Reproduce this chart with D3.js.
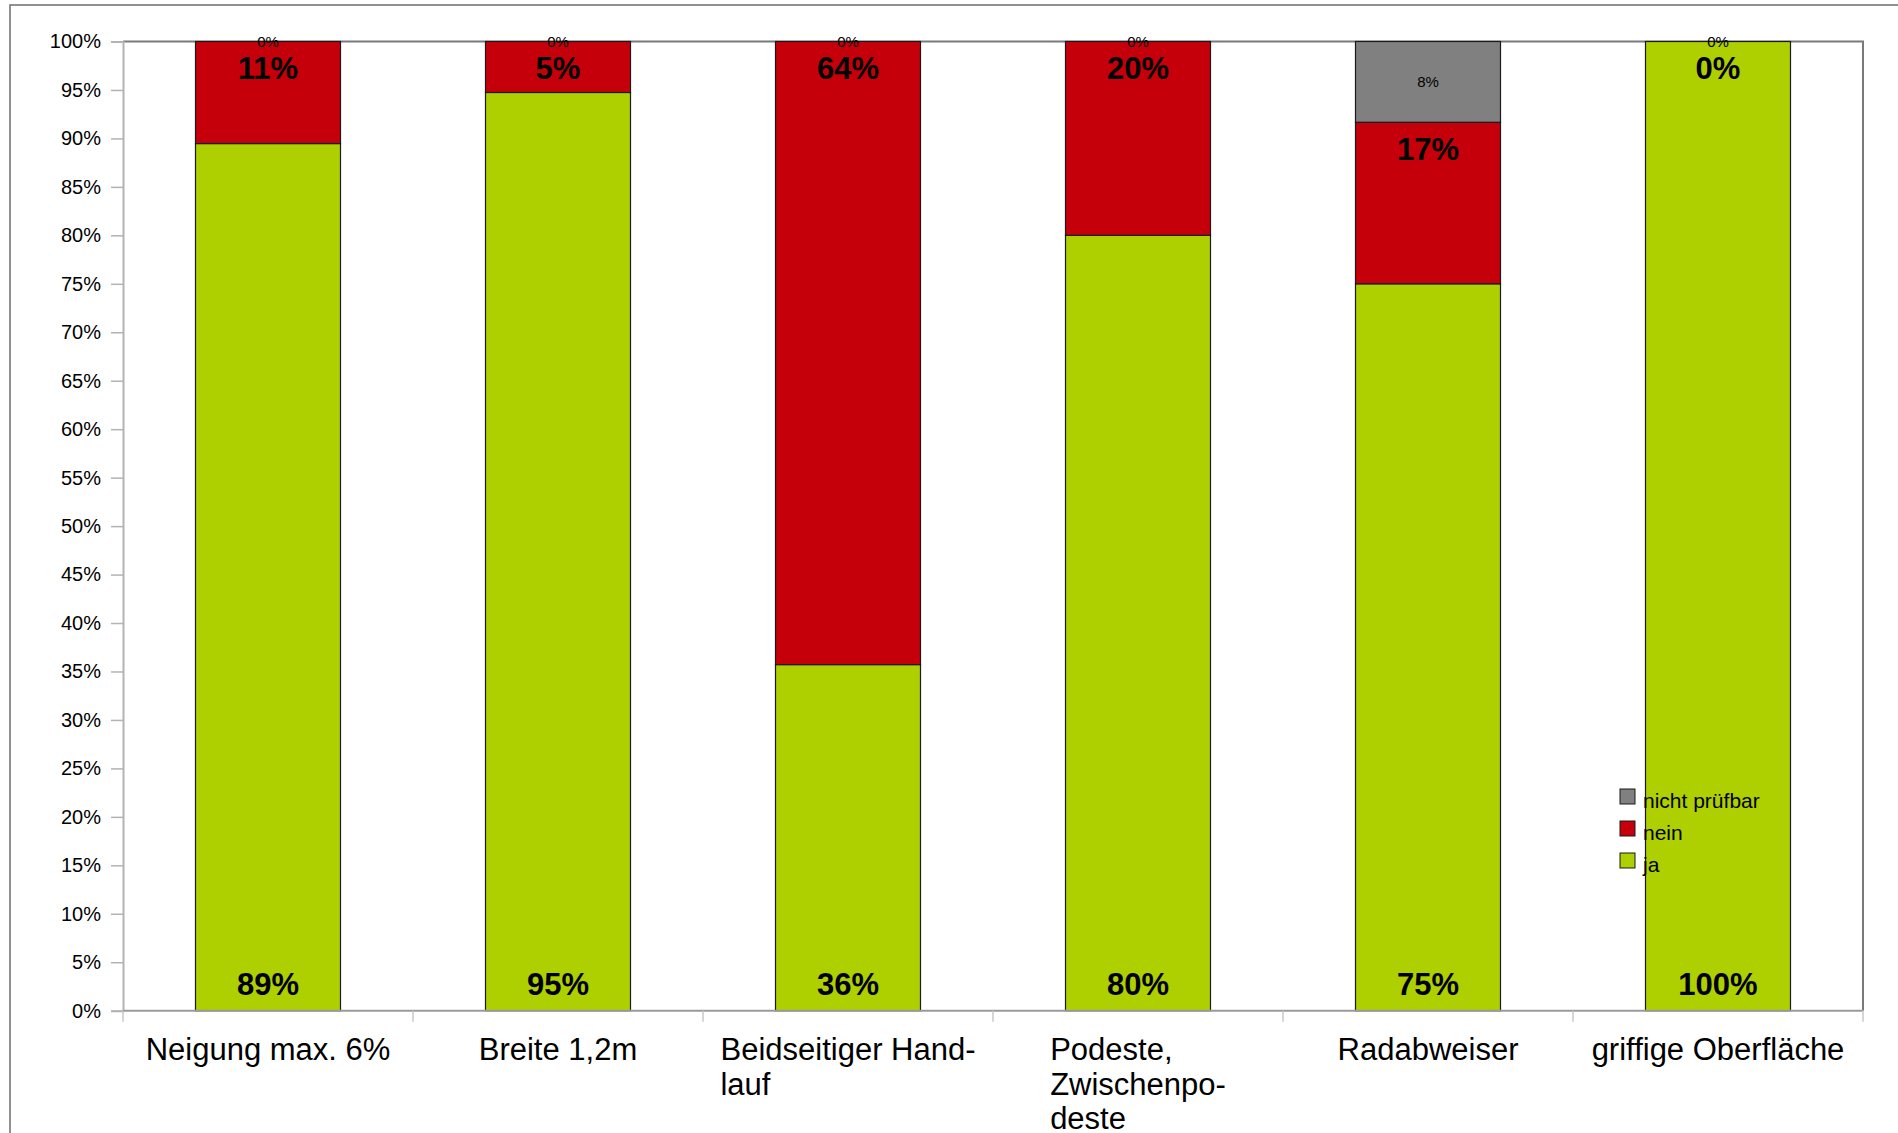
<!DOCTYPE html>
<html>
<head>
<meta charset="utf-8">
<script src="https://cdn.jsdelivr.net/npm/d3@7"></script>
<style>
  body { margin: 0; background: #fff; }
  svg { display: block; font-family: "Liberation Sans", Arial, sans-serif; }
</style>
</head>
<body>
<div id="chart"></div>
<script>
// Data
// ================================
var categories = ["Neigung max. 6%", "Breite 1,2m", "Beidseitiger Handlauf",
  "Podeste, Zwischenpodeste", "Radabweiser", "griffige Oberfläche"];
var categoryLines = [["Neigung max. 6%"], ["Breite 1,2m"], ["Beidseitiger Hand-", "lauf"],
  ["Podeste,", "Zwischenpo-", "deste"], ["Radabweiser"], ["griffige Oberfläche"]];
var ja = [89.47, 94.74, 35.71, 80, 75, 100];
var nein = [10.53, 5.26, 64.29, 20, 16.67, 0];
var nichtPruefbar = [0, 0, 0, 0, 8.33, 0];
var yTicks = [0, 5, 10, 15, 20, 25, 30, 35, 40, 45, 50, 55, 60, 65, 70, 75, 80, 85, 90, 95, 100];

var seriesKeys = ["ja", "nein", "nichtPruefbar"];
var seriesNames = { ja: "ja", nein: "nein", nichtPruefbar: "nicht prüfbar" };
var colors = { ja: "#aecf00", nein: "#c5000b", nichtPruefbar: "#808080" };

// Set up chart
// ================================
var svgWidth = 1898;
var svgHeight = 1133;
var plot = { left: 123, top: 41.5, right: 1863, bottom: 1010.7 };

var svg = d3.select("#chart")
  .append("svg")
  .attr("width", svgWidth)
  .attr("height", svgHeight);

svg.append("rect").attr("width", svgWidth).attr("height", svgHeight).attr("fill", "#fff");

// outer frame
svg.append("rect")
  .attr("x", 10).attr("y", 5)
  .attr("width", svgWidth).attr("height", svgHeight)
  .attr("fill", "none")
  .attr("stroke", "#6e6e6e")
  .attr("stroke-width", 1.5);

var rows = categories.map(function (c, i) {
  return { cat: c, ja: ja[i], nein: nein[i], nichtPruefbar: nichtPruefbar[i] };
});

var x = d3.scaleBand()
  .domain(categories)
  .range([plot.left, plot.right])
  .paddingInner(0.5)
  .paddingOuter(0.25);

var y = d3.scaleLinear()
  .domain([0, 100])
  .range([plot.bottom, plot.top]);

// plot area border (top + right)
svg.append("path")
  .attr("d", `M${plot.left},${plot.top}H${plot.right}V${plot.bottom}`)
  .attr("fill", "none")
  .attr("stroke", "#7a7a7a")
  .attr("stroke-width", 2);

// y axis
var leftAxis = d3.axisLeft(y)
  .tickValues(yTicks)
  .tickSize(12)
  .tickPadding(10)
  .tickFormat(d => d + "%");

var yAxis = svg.append("g")
  .attr("transform", `translate(${plot.left},0)`)
  .call(leftAxis);
yAxis.select(".domain").attr("stroke", "#b3b3b3").attr("stroke-width", 2);
yAxis.selectAll(".tick line").attr("stroke", "#b3b3b3").attr("stroke-width", 1.5);
yAxis.selectAll(".tick text")
  .style("font-size", "20px")
  .style("font-family", "Liberation Sans, Arial, sans-serif")
  .attr("fill", "#000");

// stacked bars
var stacked = d3.stack().keys(seriesKeys)(rows);

var layers = svg.selectAll("g.layer")
  .data(stacked)
  .enter()
  .append("g")
  .attr("class", "layer")
  .attr("fill", d => colors[d.key]);

layers.selectAll("rect")
  .data(d => d)
  .enter()
  .append("rect")
  .attr("x", d => x(d.data.cat))
  .attr("y", d => y(d[1]))
  .attr("width", x.bandwidth())
  .attr("height", d => y(d[0]) - y(d[1]))
  .attr("stroke", "#1a1a1a")
  .attr("stroke-width", 1.2);

// x axis line and ticks at category boundaries
var gap = (x.step() - x.bandwidth()) / 2;
var bounds = categories.map(c => x(c) - gap).concat([plot.right]);

svg.append("line")
  .attr("x1", plot.left).attr("x2", plot.right)
  .attr("y1", plot.bottom).attr("y2", plot.bottom)
  .attr("stroke", "#9a9a9a")
  .attr("stroke-width", 2);

svg.selectAll("line.xtick")
  .data(bounds)
  .enter()
  .append("line")
  .attr("class", "xtick")
  .attr("x1", d => d).attr("x2", d => d)
  .attr("y1", plot.bottom).attr("y2", plot.bottom + 11)
  .attr("stroke", "#c8c8c8")
  .attr("stroke-width", 1.5);

// x labels (block centred, lines left aligned)
var fmt = d3.format(".0f");
var xLabels = svg.selectAll("text.xlabel")
  .data(categories)
  .enter()
  .append("text")
  .attr("class", "xlabel")
  .style("font-size", "31px")
  .attr("fill", "#000");

xLabels.each(function (c, i) {
  var t = d3.select(this);
  categoryLines[i].forEach(function (line, j) {
    t.append("tspan").attr("y", 1060 + j * 34.5).text(line);
  });
  var maxW = 0;
  t.selectAll("tspan").each(function () {
    maxW = Math.max(maxW, this.getComputedTextLength());
  });
  var cx = x(c) + x.bandwidth() / 2;
  t.selectAll("tspan").attr("x", cx - maxW / 2);
});

// data labels
layers.selectAll("text")
  .data(d => d.map(v => Object.assign({ key: d.key }, { v: v })))
  .enter()
  .append("text")
  .attr("text-anchor", "middle")
  .attr("fill", "#000")
  .attr("x", d => x(d.v.data.cat) + x.bandwidth() / 2)
  .attr("y", function (d) {
    if (d.key === "ja") return y(d.v[0]) - 15.5;
    if (d.key === "nein") return y(d.v[1]) + 37.5;
    return (y(d.v[0]) + y(d.v[1])) / 2;
  })
  .attr("dy", d => d.key === "nichtPruefbar" ? "0.35em" : 0)
  .style("font-size", d => d.key === "nichtPruefbar" ? "15px" : "31px")
  .style("font-weight", d => d.key === "nichtPruefbar" ? "normal" : "bold")
  .text(d => fmt(d.v.data[d.key]) + "%");

// legend
var legendKeys = ["nichtPruefbar", "nein", "ja"];
var legend = svg.selectAll("g.legend")
  .data(legendKeys)
  .enter()
  .append("g")
  .attr("class", "legend")
  .attr("transform", (d, i) => `translate(1620, ${789 + i * 32})`);

legend.append("rect")
  .attr("width", 15).attr("height", 15)
  .attr("fill", d => colors[d])
  .attr("stroke", "#1a1a1a")
  .attr("stroke-width", 1);

legend.append("text")
  .attr("x", 23)
  .attr("y", 19)
  .style("font-size", "21px")
  .attr("fill", "#000")
  .text(d => seriesNames[d]);
</script>
</body>
</html>
